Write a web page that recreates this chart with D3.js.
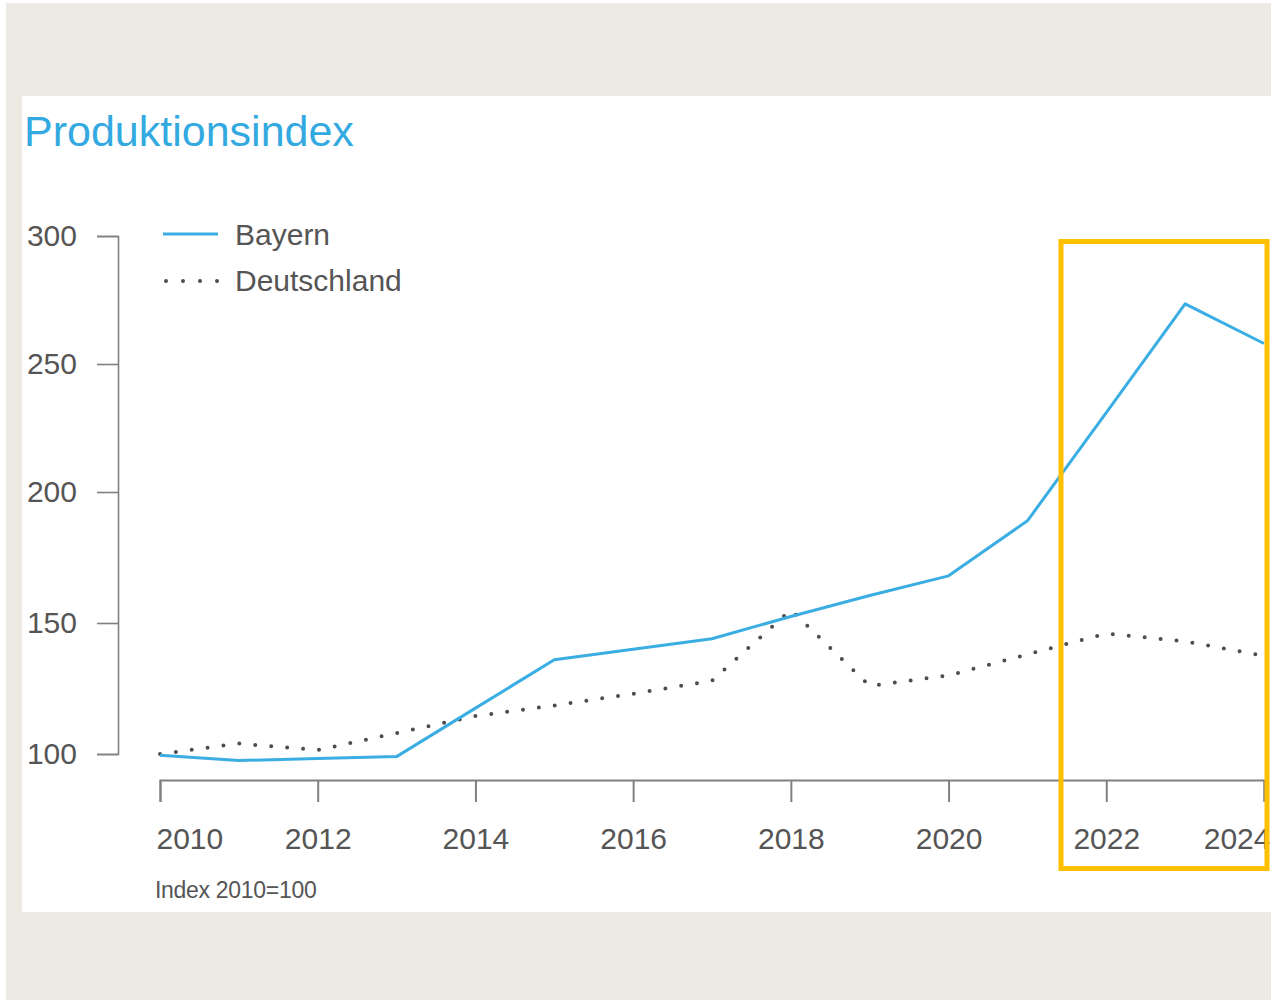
<!DOCTYPE html>
<html>
<head>
<meta charset="utf-8">
<script src="https://cdn.jsdelivr.net/npm/d3@7"></script>
<style>
  body { margin: 0; background: #fff; }
  svg { display: block; font-family: "Liberation Sans", Arial, sans-serif; }
</style>
</head>
<body>
<div id="chart"></div>
<script>
var years = [2010, 2011, 2012, 2013, 2014, 2015, 2016, 2017, 2018, 2019, 2020, 2021, 2022, 2023, 2024];
var bayern = [99.5, 97.5, 98.3, 99, 117.5, 136, 140, 144, 152.5, 160.5, 168, 189, 231, 273.5, 258];
var deutschland = [100, 104, 101.5, 108, 114.5, 118.5, 123, 128, 155, 126, 130, 138, 146, 143, 137.5];
var xTicks = [2010, 2012, 2014, 2016, 2018, 2020, 2022, 2024];
var yTicks = [100, 150, 200, 250, 300];
var seriesNames = ["Bayern", "Deutschland"];

var width = 1271, height = 1000;
var blue = "#3aaee3", dotGray = "#4d4d4d", axisGray = "#808080", textGray = "#555";

var svg = d3.select("#chart").append("svg")
	.attr("width", width)
	.attr("height", height);

// background + white panel
svg.append("rect").attr("x", 6).attr("y", 3).attr("width", width - 6).attr("height", height - 3).attr("fill", "#edeae3");
svg.append("rect").attr("x", 22).attr("y", 96).attr("width", width - 22).attr("height", 816).attr("fill", "#fff");

// title
svg.append("text")
	.attr("x", 24).attr("y", 146)
	.attr("font-size", 43)
	.attr("fill", "#33a9e1")
	.text("Produktionsindex");

var x = d3.scaleLinear().domain([2010, 2024]).range([160, 1264]);
// tick spacing in the original is slightly uneven
var y = d3.scaleLinear().domain(yTicks).range([754, 623, 492, 364, 236]);

// y axis
var yAxis = svg.append("g")
	.attr("transform", "translate(118,0)")
	.call(d3.axisLeft(y).tickValues(yTicks).tickSize(21).tickSizeOuter(21).tickPadding(20));
yAxis.selectAll("path, line").attr("stroke", axisGray).attr("stroke-width", 1.6);
yAxis.selectAll("text").attr("font-size", 30).attr("fill", textGray).attr("font-family", "Liberation Sans, Arial, sans-serif");

// x axis
var xAxis = svg.append("g")
	.attr("transform", "translate(0,780)")
	.call(d3.axisBottom(x).tickValues(xTicks).tickFormat(d3.format("d")).tickSize(22).tickSizeOuter(22).tickPadding(26));
xAxis.selectAll("path, line").attr("stroke", axisGray).attr("stroke-width", 2);
xAxis.selectAll("text").attr("font-size", 30).attr("fill", textGray).attr("font-family", "Liberation Sans, Arial, sans-serif")
	.attr("text-anchor", function(d) { return d == 2010 ? "start" : (d == 2024 ? "end" : "middle"); })
	.attr("dx", function(d) { return d == 2010 ? -4 : (d == 2024 ? 6 : 0); });

// lines
var line = d3.line()
	.x(function(d, i) { return x(years[i]); })
	.y(function(d) { return y(d); });

svg.append("path")
	.datum(deutschland)
	.attr("fill", "none")
	.attr("stroke", dotGray)
	.attr("stroke-width", 4)
	.attr("stroke-linecap", "round")
	.attr("stroke-dasharray", "0 16")
	.attr("d", line);

svg.append("path")
	.datum(bayern)
	.attr("fill", "none")
	.attr("stroke", blue)
	.attr("stroke-width", 3)
	.attr("stroke-linejoin", "round")
	.attr("d", line);

// legend
var legend = svg.append("g").attr("transform", "translate(163,234)");
legend.append("line").attr("x1", 0).attr("x2", 55).attr("y1", 0).attr("y2", 0)
	.attr("stroke", blue).attr("stroke-width", 3);
legend.append("line").attr("x1", 3).attr("x2", 55).attr("y1", 47).attr("y2", 47)
	.attr("stroke", dotGray).attr("stroke-width", 4).attr("stroke-linecap", "round").attr("stroke-dasharray", "0 17");
legend.selectAll("text.lbl")
	.data(seriesNames)
	.enter().append("text")
	.attr("class", "lbl")
	.attr("x", 72)
	.attr("y", function(d, i) { return 11 + i * 46; })
	.attr("font-size", 30)
	.attr("fill", textGray)
	.text(function(d) { return d; });

// footnote
svg.append("text")
	.attr("x", 155).attr("y", 898)
	.attr("font-size", 23)
	.attr("fill", textGray)
	.attr("letter-spacing", -0.3)
	.text("Index 2010=100");

// highlight box
svg.append("rect")
	.attr("x", 1061).attr("y", 241.5)
	.attr("width", 206).attr("height", 627)
	.attr("fill", "none")
	.attr("stroke", "#ffc000")
	.attr("stroke-width", 5);
</script>
</body>
</html>
